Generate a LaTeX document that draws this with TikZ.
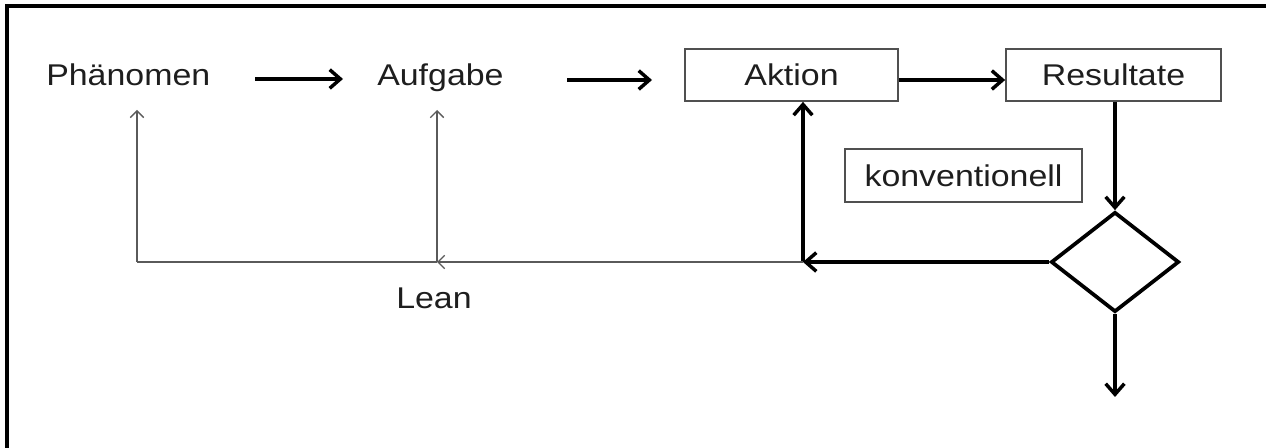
\documentclass[tikz,border=0pt]{standalone}
\usepackage{fontspec}
\usepackage{graphicx}
\setmainfont{Liberation Sans}
\usetikzlibrary{arrows.meta,shapes.geometric}
\definecolor{txtcol}{HTML}{1E1E1E}
\definecolor{boxcol}{HTML}{505050}
\definecolor{thincol}{HTML}{5A5A5A}
\newcommand{\wide}[1]{\scalebox{1.13}[1]{#1}}
\tikzset{
  lbl/.style={inner sep=0pt, anchor=base west, text=txtcol, font=\fontsize{22.5pt}{27pt}\selectfont},
  boxnode/.style={draw=boxcol, line width=1.3pt, inner sep=0pt, text=txtcol, font=\fontsize{22.5pt}{27pt}\selectfont},
  thickarr/.style={line width=2.8pt, -{Straight Barb[length=8pt,width=14pt,line width=2.6pt]}},
  thinarr/.style={line width=1pt, draw=thincol, -{Straight Barb[length=5pt,width=10pt,line width=1pt]}},
  thinline/.style={line width=1pt, draw=thincol},
  frameline/.style={line width=2.6pt}
}
\begin{document}
\begin{tikzpicture}[x=0.75pt,y=-0.75pt]
\useasboundingbox (0,0) rectangle (1266,448);
% frame (top and left only)
\coordinate (fr1) at (1266,6);
\coordinate (fr2) at (7,6);
\coordinate (fr3) at (7,448);
\draw[frameline] (fr1) -- (fr2) -- (fr3);

% texts
\node[lbl] (phen) at (46,86) {\wide{Phänomen}};
\node[lbl] (aufg) at (377,86) {\wide{Aufgabe}};
\node[lbl] (lean) at (396,309) {\wide{Lean}};

% boxes
\node[boxnode, minimum width=159.75pt, minimum height=39pt] (aktion) at (791.5,75) {\wide{Aktion}};
\node[boxnode, minimum width=161.25pt, minimum height=39pt] (result) at (1113.5,75) {\wide{Resultate}};
\node[boxnode, minimum width=177.75pt, minimum height=39.75pt] (konv) at (963.5,175.5) {\wide{konventionell}};

% decision diamond
\node[diamond, draw, line width=2.8pt, inner sep=0pt, minimum width=96pt, minimum height=75pt] (dec) at (1115,262) {};

% coordinates
\coordinate (a1s) at (255,79);
\coordinate (a1e) at (343,79);
\coordinate (a2s) at (567,80);
\coordinate (a2e) at (652,80);
\coordinate (j1) at (803,262);
\coordinate (j2) at (437,262);
\coordinate (j3) at (137,262);
\coordinate (ptip) at (137,110);
\coordinate (atip) at (437,110);
\coordinate (outend) at (1115,397);

% top arrows
\draw[thickarr] (a1s) -- (a1e);
\draw[thickarr] (a2s) -- (a2e);
\draw[thickarr] ([yshift=-3.75pt]aktion.east) -- ([yshift=-3.75pt]result.west);

% conventional loop
\draw[thickarr] (result.south -| dec.north) -- (dec.north);
\draw[thickarr] (dec.west) -- (j1);
\draw[thickarr] (j1) -- (j1 |- aktion.south);
\draw[thickarr] (dec.south) -- (outend);

% lean loop
\draw[thinarr] (j1) -- (j2);
\draw[thinline] (j2) -- (j3);
\draw[thinarr] (j3) -- (ptip);
\draw[thinarr] (j2) -- (atip);
\end{tikzpicture}
\end{document}
